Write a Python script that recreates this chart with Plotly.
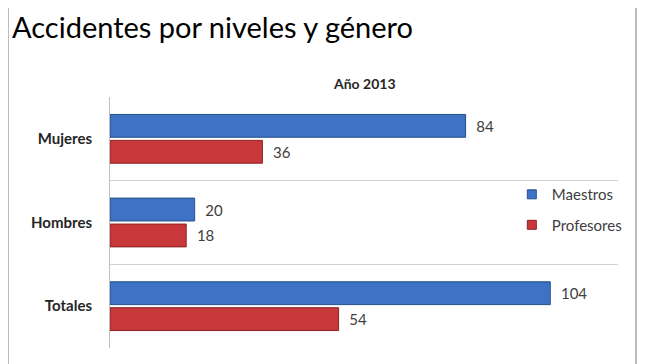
import plotly.graph_objects as go

# Datos del grafico
categorias = ['Mujeres', 'Hombres', 'Totales']
maestros = [84, 20, 104]
profesores = [36, 18, 54]
series = ['Maestros', 'Profesores']

azul = '#3d72c4'
rojo = '#c8373a'

fig = go.Figure()

fig.add_trace(go.Bar(
    y=categorias, x=maestros, name=series[0], orientation='h',
    marker=dict(color=azul, line=dict(color='#264f8c', width=1)),
    text=maestros, texttemplate='\u00a0\u00a0%{x}', textposition='outside',
    cliponaxis=False, showlegend=False,
    textfont=dict(color='#404040', size=15),
))
fig.add_trace(go.Bar(
    y=categorias, x=profesores, name=series[1], orientation='h',
    marker=dict(color=rojo, line=dict(color='#8a2224', width=1)),
    text=profesores, texttemplate='\u00a0\u00a0%{x}', textposition='outside',
    cliponaxis=False, showlegend=False,
    textfont=dict(color='#404040', size=15),
))

# entradas de leyenda con cuadritos pequenos
for nombre, col, borde in [(series[0], azul, '#264f8c'), (series[1], rojo, '#8a2224')]:
    fig.add_trace(go.Scatter(
        x=[None], y=[None], mode='markers', name=nombre, legendgroup=nombre,
        marker=dict(symbol='square', size=9, color=col, line=dict(color=borde, width=1)),
    ))

# la pagina tiene 8px de margen en el body, por eso 637x356
fig.update_layout(
    width=637, height=356,
    barmode='group', bargap=0.38, bargroupgap=0.12,
    margin=dict(l=102, r=27, t=89, b=16, autoexpand=False),
    paper_bgcolor='white', plot_bgcolor='white',
    font=dict(family='Lato, Open Sans, sans-serif', color='#262626'),
    title=dict(text='Accidentes por niveles y género', xref='container', yref='container',
               x=4 / 637, y=1 - 20 / 356, xanchor='left', yanchor='middle',
               font=dict(size=29, color='black')),
    legend=dict(x=0.791, y=0.677, xanchor='left', yanchor='top',
                font=dict(size=15, color='#404040'), tracegroupgap=8,
                itemwidth=30, bgcolor='rgba(0,0,0,0)'),
    annotations=[dict(text='<b>Año 2013</b>', xref='paper', yref='paper', x=0.5, y=1,
                      yshift=3, yanchor='bottom', showarrow=False,
                      font=dict(size=14, color='#262626'))],
    shapes=[dict(type='rect', xref='paper', yref='paper', x0=-0.2008, x1=1.0354,
                 y0=-0.2, y1=1.3745, line=dict(color='#a6a6a6', width=1.5), layer='below')],
)

fig.update_xaxes(range=[0, 120], showticklabels=False, showgrid=False, zeroline=False,
                 automargin=False)
fig.update_yaxes(autorange='reversed', tickson='boundaries', showgrid=True,
                 gridcolor='#d0d0d0', showline=True, linecolor='#bfbfbf',
                 ticks='', ticklabelstandoff=14, automargin=False,
                 tickfont=dict(size=15, color='#262626', weight='bold'))

fig.write_html('out.html')
